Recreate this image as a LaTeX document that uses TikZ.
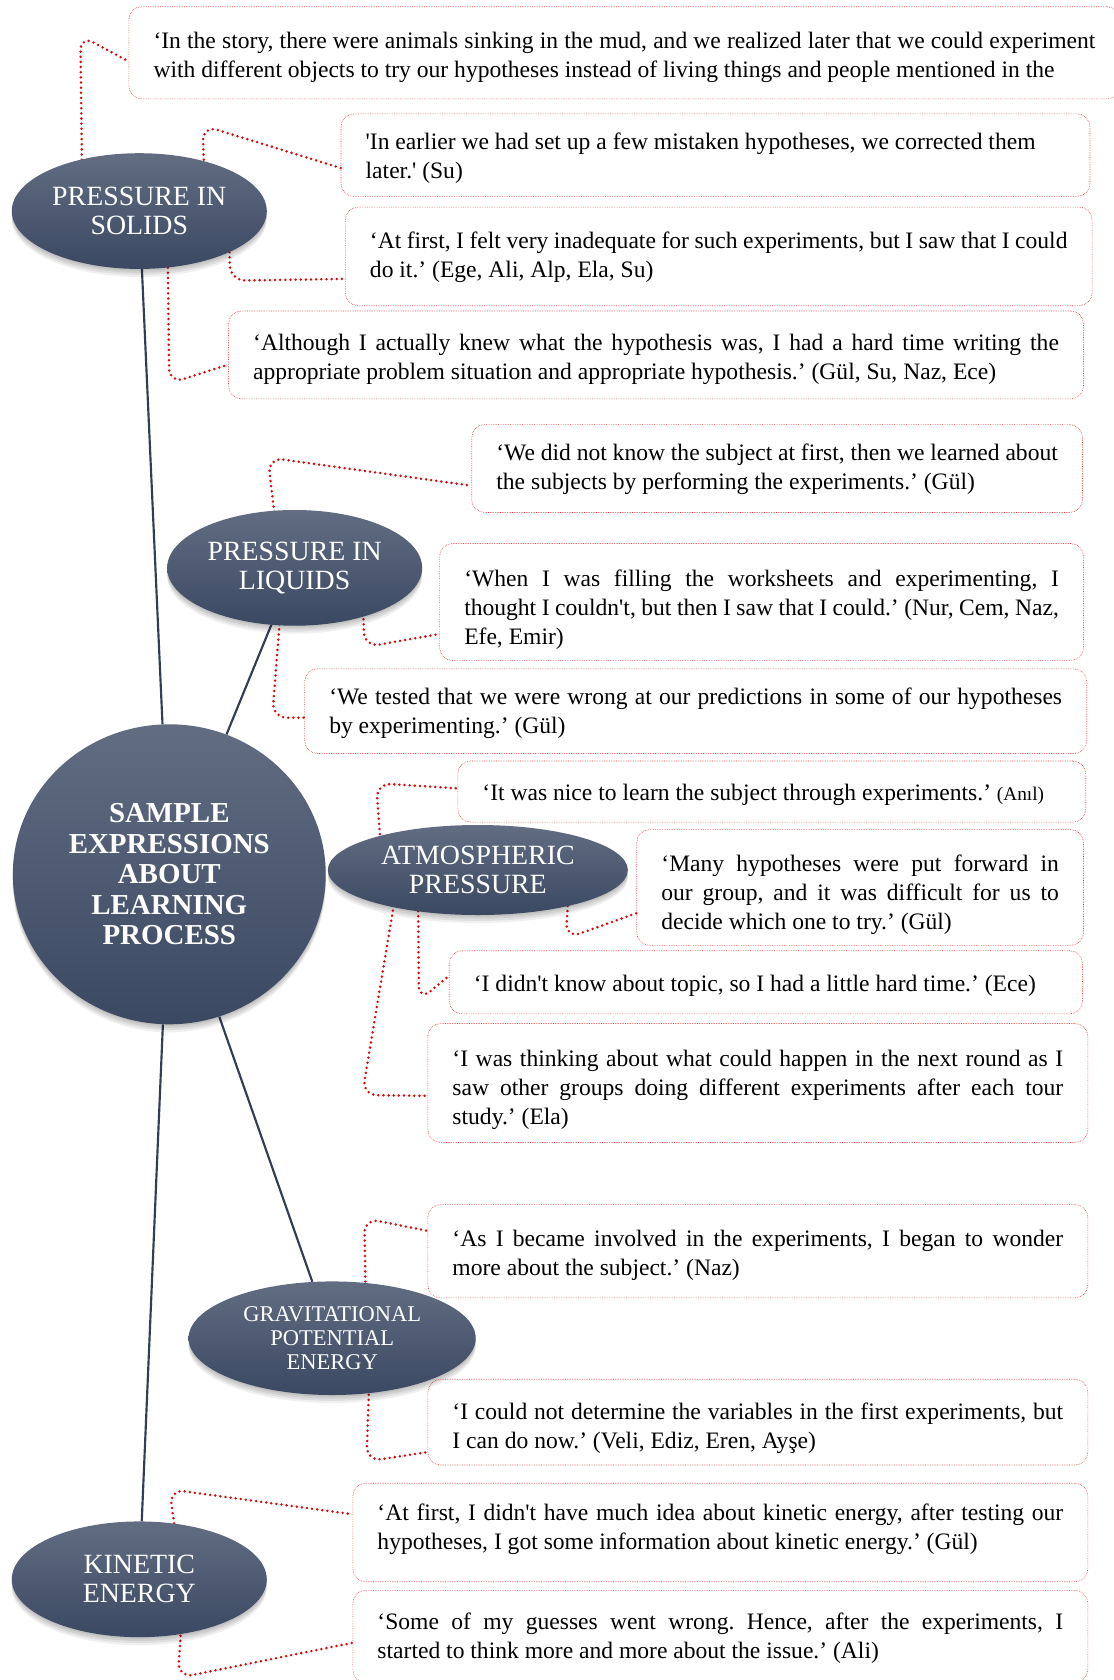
\documentclass[tikz,border=0pt]{standalone}
\usepackage{fontspec}
\setmainfont{Liberation Serif}
\usetikzlibrary{shapes.geometric,shadows,calc}
\pgfdeclarelayer{bg}
\pgfsetlayers{bg,main}
\newcommand\sq{\textquotesingle}
\definecolor{navy}{RGB}{50,62,86}
\definecolor{elltop}{RGB}{98,109,130}
\definecolor{ellbot}{RGB}{58,72,98}
\definecolor{dotred}{RGB}{218,10,10}
\definecolor{boxred}{RGB}{225,65,65}
\tikzset{
  softshadow/.style={
    general shadow={fill=black, opacity=0.07, shadow yshift=-1.5pt},
    general shadow={fill=black, opacity=0.07, shadow yshift=-3.5pt},
    general shadow={fill=black, opacity=0.07, shadow yshift=-5.5pt},
    general shadow={fill=black, opacity=0.06, shadow yshift=-7.5pt}},
  topic/.style={ellipse, inner sep=0pt, softshadow, top color=elltop, bottom color=ellbot,
    text=white, align=center, font=\fontsize{26}{27}\selectfont},
  qframe/.style={draw=boxred, line width=0.6pt, densely dotted, rounded corners=12pt,
    anchor=north west, inner sep=0pt},
  qtext/.style={inner sep=0pt, font=\fontsize{22}{27}\selectfont\frenchspacing},
  dotc/.style={draw=dotred, line width=2.6pt, line cap=round, dash pattern=on 0pt off 4.8pt,
    rounded corners=14pt},
  spoke/.style={draw=navy, line width=2pt},
}
% \qbox{name}{x}{y}{width}{height}{text width}{text shift down}{align}{text}
\newcommand\qbox[9]{%
  \node[qframe, minimum width=#4, minimum height=#5] (#1) at (#2,#3) {};
  \node[qtext, text width=#6, align=#8] (#1t) at ([yshift=-#7pt]#1.center) {#9};}
\begin{document}
\begin{tikzpicture}[x=1pt,y=-1pt]
\begin{pgfonlayer}{bg}
\fill[white] (0,0) rectangle (1039,1568);
\end{pgfonlayer}
\useasboundingbox (0,0) rectangle (1039,1568);

% topic ellipses
\node[topic, minimum width=292, minimum height=280, font=\bfseries\fontsize{27}{28.5}\selectfont]
  (cen) at (158,816) {SAMPLE\\EXPRESSIONS\\ABOUT\\LEARNING\\PROCESS};
\node[topic, minimum width=238, minimum height=108] (sol) at (130,197) {PRESSURE IN\\SOLIDS};
\node[topic, minimum width=238, minimum height=108] (liq) at (275,530) {PRESSURE IN\\LIQUIDS};
\node[topic, minimum width=280, minimum height=84] (atm) at (446,812) {ATMOSPHERIC\\PRESSURE};
\node[topic, minimum width=268, minimum height=106, font=\fontsize{21}{22}\selectfont]
  (grav) at (310,1249) {GRAVITATIONAL\\POTENTIAL\\ENERGY};
\node[topic, minimum width=238, minimum height=108] (kin) at (130,1474) {KINETIC\\ENERGY};

% quote boxes
\qbox{b1}{120}{6}{925}{86}{879}{4}{justify}
  {\parfillskip=0pt ‘In the story, there were animals sinking in the mud, and we realized later that we could experiment\linebreak with different objects to try our hypotheses instead of living things and people mentioned in the}
\qbox{b2}{318}{106}{699}{77}{653}{3}{flush left}
  {\sq In earlier we had set up a few mistaken hypotheses, we corrected them\\ later.\sq{} (Su)}
\qbox{b3}{322}{193}{697}{92}{651}{1}{justify}
  {‘At first, I felt very inadequate for such experiments, but I saw that I could\linebreak do it.’ (Ege, Ali, Alp, Ela, Su)}
\qbox{b4}{213}{290}{798}{82}{752}{4}{justify}
  {‘Although I actually knew what the hypothesis was, I had a hard time writing the\linebreak appropriate problem situation and appropriate hypothesis.’ (Gül, Su, Naz, Ece)}
\qbox{b5}{440}{396}{570}{82}{524}{1}{justify}
  {‘We did not know the subject at first, then we learned about\linebreak the subjects by performing the experiments.’ (Gül)}
\qbox{b6}{410}{507}{601}{109}{555}{7}{justify}
  {‘When I was filling the worksheets and experimenting, I\linebreak thought I couldn\sq t, but then I saw that I could.’ (Nur, Cem, Naz,\linebreak Efe, Emir)}
\qbox{b7}{284}{624}{730}{79}{684}{2}{justify}
  {‘We tested that we were wrong at our predictions in some of our hypotheses\linebreak by experimenting.’ (Gül)}
\qbox{b8}{427}{710}{586}{57}{540}{3}{flush left}
  {‘It was nice to learn the subject through experiments.’ {\fontsize{18}{22}\selectfont(Anıl)}}
\qbox{b9}{594}{774}{417}{108}{371}{7}{justify}
  {‘Many hypotheses were put forward in\linebreak our group, and it was difficult for us to\linebreak decide which one to try.’ (Gül)}
\qbox{b10}{419}{887}{591}{59}{545}{3}{flush left}
  {‘I didn\sq t know about topic, so I had a little hard time.’ (Ece)}
\qbox{b11}{399}{955}{616}{111}{570}{6}{justify}
  {‘I was thinking about what could happen in the next round as I\linebreak saw other groups doing different experiments after each tour\linebreak study.’ (Ela)}
\qbox{b12}{399}{1124}{616}{87}{570}{4}{justify}
  {‘As I became involved in the experiments, I began to wonder\linebreak more about the subject.’ (Naz)}
\qbox{b13}{399}{1287}{616}{80}{570}{6}{justify}
  {‘I could not determine the variables in the first experiments, but\linebreak I can do now.’ (Veli, Ediz, Eren, Ayşe)}
\qbox{b14}{329}{1384}{686}{92}{640}{-3}{justify}
  {‘At first, I didn\sq t have much idea about kinetic energy, after testing our\linebreak hypotheses, I got some information about kinetic energy.’ (Gül)}
\qbox{b15}{329}{1484}{686}{86}{640}{2}{justify}
  {‘Some of my guesses went wrong. Hence, after the experiments, I\linebreak started to think more and more about the issue.’ (Ali)}

\begin{pgfonlayer}{bg}
% spokes
\draw[spoke] (sol) -- (cen);
\draw[spoke] (liq) -- (cen);
\draw[spoke] (cen) -- (grav);
\draw[spoke] (cen) -- (kin);
% dotted connectors
\draw[dotc] ([xshift=-53pt]sol.center) -- (75,33) -- ([yshift=-8pt]b1.west);
\draw[dotc] ([xshift=62pt]sol.center) -- (189,117) -- ([yshift=-12pt]b2.west);
\draw[dotc] ([xshift=83pt]sol.center) -- (215,262) -- ([yshift=-21pt]b3.west);
\draw[dotc] ([xshift=26pt]sol.center) -- (158,358) -- ([yshift=-9pt]b4.west);
\draw[dotc] ([xshift=-13pt]liq.center) -- (250,427) -- ([yshift=-16pt]b5.west);
\draw[dotc] ([xshift=63pt]liq.center) -- (340,604) -- ([yshift=-30pt]b6.west);
\draw[dotc] ([xshift=-10pt]liq.center) -- (254,670) -- ([yshift=-6pt]b7.west);
\draw[dotc] ([xshift=-89pt]atm.center) -- (351,731) -- ([yshift=3pt]b8.west);
\draw[dotc] ([xshift=86pt]atm.center) -- (528,876) -- ([yshift=-24pt]b9.west);
\draw[dotc] ([xshift=-56pt]atm.center) -- (391,934) -- ([yshift=6pt]b10.west);
\draw[dotc] ([xshift=-73pt]atm.center) -- (338,1022) -- ([yshift=-12pt]b11.west);
\draw[dotc] ([xshift=32pt]grav.center) -- (340,1137) -- ([yshift=19pt]b12.west);
\draw[dotc] ([xshift=36pt]grav.center) -- (342,1364) -- ([yshift=-28pt]b13.west);
\draw[dotc] ([xshift=40pt]kin.center) -- (158,1390) -- ([yshift=17pt]b14.west);
\draw[dotc] ([xshift=42pt]kin.center) -- (166,1566) -- ([yshift=-6pt]b15.west);
\end{pgfonlayer}
\end{tikzpicture}
\end{document}
